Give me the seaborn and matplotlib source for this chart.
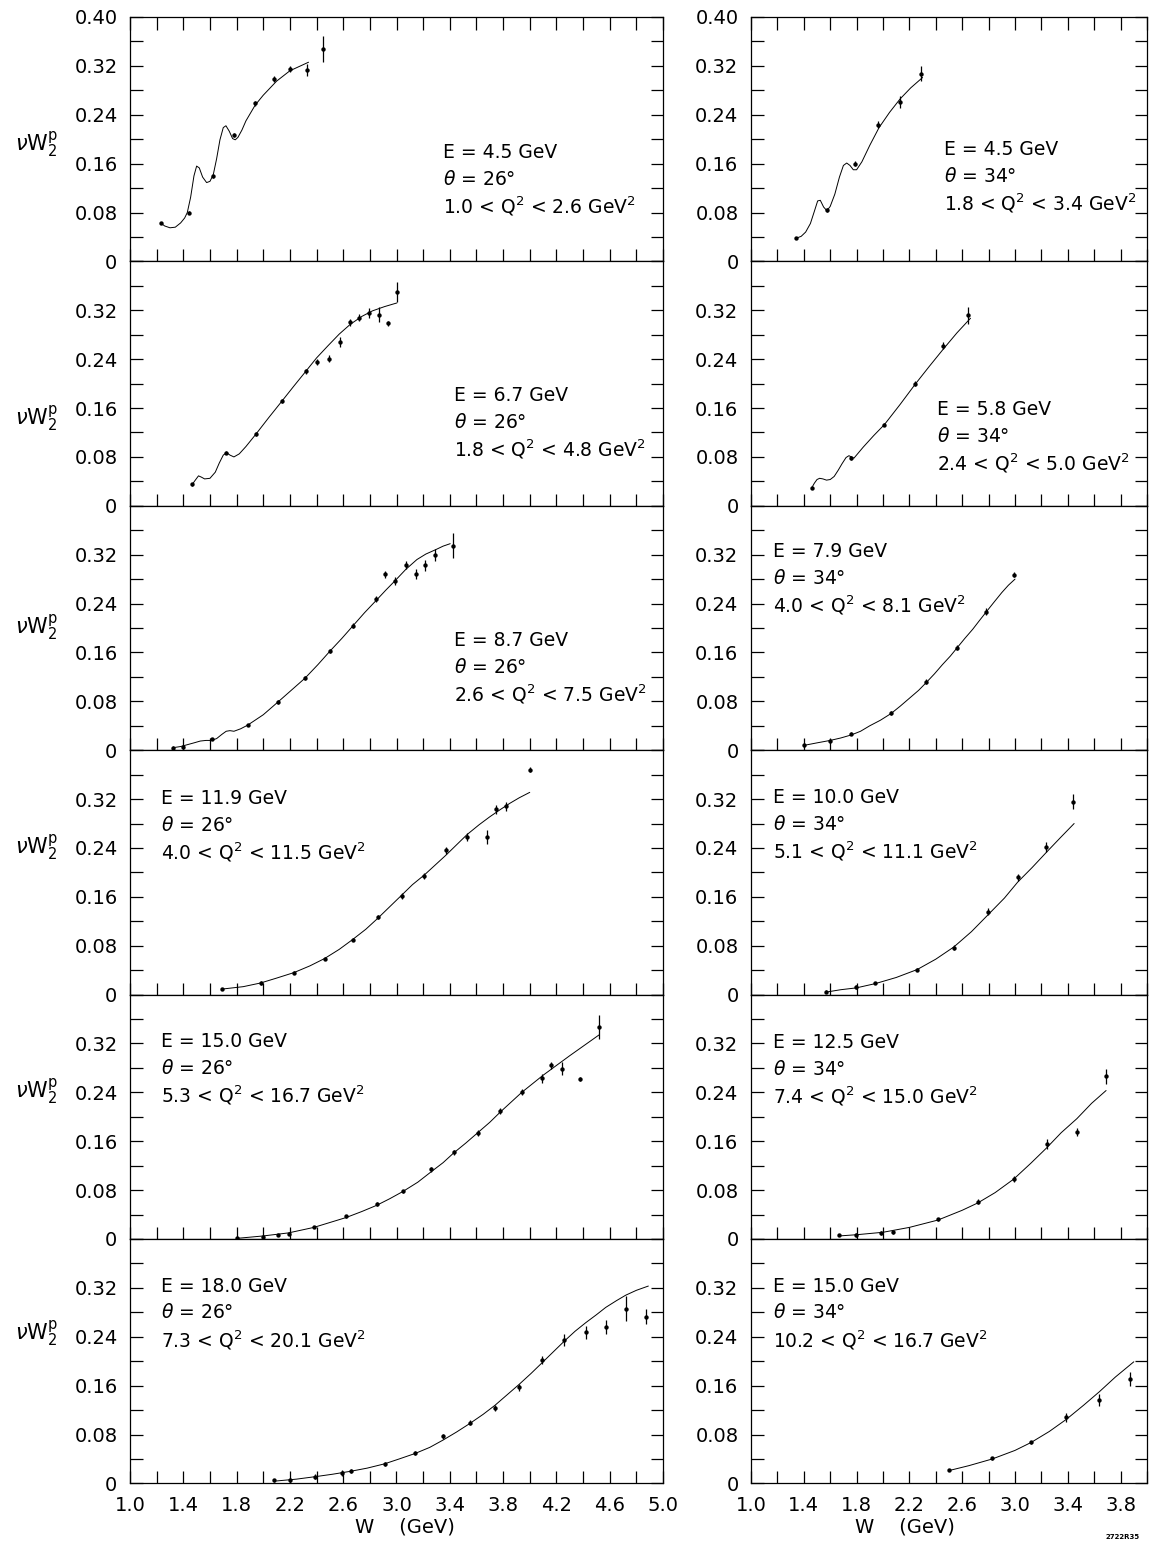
import numpy as np
import matplotlib
matplotlib.use("Agg")
import matplotlib.pyplot as plt
from matplotlib.ticker import FixedLocator, FixedFormatter, MultipleLocator
import seaborn as sns
import pandas as pd

# ---------------- measured nu*W2 (proton) and fitted curves ----------------
# E = 4.5 GeV, theta = 26 deg
w_e45_26 = [1.23, 1.44, 1.62, 1.78, 1.94, 2.08, 2.20, 2.33, 2.45]
v_e45_26 = [0.063, 0.080, 0.139, 0.207, 0.259, 0.299, 0.315, 0.313, 0.348]
d_e45_26 = [0.002, 0.003, 0.003, 0.003, 0.004, 0.005, 0.005, 0.010, 0.021]
fw_e45_26 = [1.23, 1.26, 1.30, 1.34, 1.38, 1.41, 1.43, 1.455, 1.48, 1.50, 1.52, 1.545,
             1.575, 1.60, 1.625, 1.65, 1.675, 1.70, 1.72, 1.745, 1.77, 1.79, 1.81, 1.84,
             1.87, 1.94, 2.00, 2.10, 2.20, 2.34]
fv_e45_26 = [0.063, 0.058, 0.055, 0.056, 0.063, 0.071, 0.080, 0.105, 0.140, 0.156, 0.153,
             0.138, 0.129, 0.131, 0.142, 0.168, 0.199, 0.219, 0.222, 0.213, 0.201, 0.199,
             0.203, 0.215, 0.230, 0.256, 0.272, 0.295, 0.312, 0.326]

# E = 6.7 GeV, theta = 26 deg
w_e67_26 = [1.467, 1.722, 1.944, 2.139, 2.319, 2.403, 2.49, 2.575, 2.653, 2.717, 2.797,
            2.867, 2.939, 3.003]
v_e67_26 = [0.035, 0.087, 0.117, 0.171, 0.220, 0.236, 0.241, 0.268, 0.300, 0.308, 0.316,
            0.313, 0.299, 0.350]
d_e67_26 = [0.002, 0.003, 0.003, 0.003, 0.004, 0.005, 0.005, 0.008, 0.006, 0.006, 0.008,
            0.012, 0.004, 0.017]
fw_e67_26 = [1.467, 1.49, 1.514, 1.535, 1.56, 1.60, 1.64, 1.67, 1.70, 1.725, 1.75, 1.78,
             1.82, 1.87, 1.944, 2.04, 2.139, 2.23, 2.319, 2.40, 2.486, 2.57, 2.653, 2.74,
             2.819, 2.91, 3.003]
fv_e67_26 = [0.035, 0.042, 0.049, 0.047, 0.044, 0.045, 0.055, 0.070, 0.083, 0.087, 0.083,
             0.080, 0.085, 0.097, 0.117, 0.144, 0.171, 0.196, 0.220, 0.242, 0.262, 0.281,
             0.297, 0.310, 0.319, 0.326, 0.332]

# E = 8.7 GeV, theta = 26 deg
w_e87_26 = [1.319, 1.397, 1.619, 1.883, 2.111, 2.314, 2.5, 2.675, 2.847, 2.917, 2.992,
            3.069, 3.147, 3.217, 3.286, 3.425]
v_e87_26 = [0.004, 0.006, 0.018, 0.041, 0.079, 0.118, 0.162, 0.204, 0.248, 0.288, 0.277,
            0.303, 0.288, 0.303, 0.320, 0.335]
d_e87_26 = [0.003, 0.003, 0.002, 0.002, 0.003, 0.003, 0.003, 0.004, 0.005, 0.006, 0.006,
            0.007, 0.008, 0.009, 0.010, 0.021]
fw_e87_26 = [1.319, 1.38, 1.43, 1.48, 1.528, 1.57, 1.61, 1.65, 1.69, 1.722, 1.75, 1.78,
             1.83, 1.883, 2.0, 2.111, 2.21, 2.314, 2.41, 2.5, 2.59, 2.675, 2.76, 2.847,
             2.92, 2.992, 3.07, 3.153, 3.22, 3.292, 3.35, 3.403]
fv_e87_26 = [0.004, 0.006, 0.009, 0.012, 0.015, 0.016, 0.016, 0.019, 0.026, 0.031, 0.032,
             0.031, 0.035, 0.041, 0.058, 0.079, 0.098, 0.118, 0.140, 0.162, 0.183, 0.204,
             0.225, 0.245, 0.262, 0.278, 0.296, 0.312, 0.321, 0.328, 0.334, 0.338]

# E = 11.9 GeV, theta = 26 deg
w_e119_26 = [1.69, 1.98, 2.23, 2.46, 2.67, 2.86, 3.04, 3.21, 3.37, 3.53, 3.68, 3.75, 3.82, 4.0]
v_e119_26 = [0.009, 0.019, 0.036, 0.059, 0.090, 0.127, 0.161, 0.194, 0.236, 0.258, 0.258,
             0.303, 0.308, 0.368]
d_e119_26 = [0.002, 0.003, 0.003, 0.003, 0.003, 0.004, 0.005, 0.005, 0.006, 0.007, 0.012,
             0.008, 0.008, 0.004]
fw_e119_26 = [1.69, 1.85, 1.98, 2.1, 2.23, 2.35, 2.46, 2.57, 2.67, 2.77, 2.86, 2.95, 3.04,
              3.12, 3.21, 3.29, 3.37, 3.45, 3.53, 3.62, 3.70, 3.78, 3.85, 3.92, 4.0]
fv_e119_26 = [0.009, 0.013, 0.019, 0.027, 0.036, 0.047, 0.059, 0.074, 0.090, 0.107, 0.125,
              0.144, 0.163, 0.180, 0.196, 0.212, 0.228, 0.245, 0.262, 0.278, 0.291, 0.303,
              0.313, 0.322, 0.331]

# E = 15.0 GeV, theta = 26 deg
w_e150_26 = [1.8, 2.0, 2.11, 2.19, 2.38, 2.62, 2.85, 3.05, 3.26, 3.43, 3.61, 3.78, 3.94,
             4.09, 4.16, 4.24, 4.38, 4.52]
v_e150_26 = [0.001, 0.004, 0.007, 0.009, 0.020, 0.037, 0.057, 0.078, 0.114, 0.142, 0.173,
             0.209, 0.241, 0.263, 0.284, 0.279, 0.262, 0.347]
d_e150_26 = [0.002, 0.002, 0.002, 0.002, 0.002, 0.003, 0.003, 0.003, 0.004, 0.004, 0.005,
             0.005, 0.005, 0.007, 0.006, 0.010, 0.003, 0.020]
fw_e150_26 = [1.8, 2.0, 2.19, 2.38, 2.5, 2.62, 2.74, 2.85, 2.95, 3.05, 3.16, 3.26, 3.35,
              3.43, 3.52, 3.61, 3.7, 3.78, 3.86, 3.94, 4.02, 4.1, 4.2, 4.3, 4.41, 4.52]
fv_e150_26 = [0.001, 0.005, 0.010, 0.019, 0.027, 0.035, 0.045, 0.055, 0.066, 0.078, 0.093,
              0.110, 0.125, 0.141, 0.157, 0.174, 0.191, 0.208, 0.224, 0.240, 0.254, 0.268,
              0.284, 0.300, 0.317, 0.334]

# E = 18.0 GeV, theta = 26 deg
w_e180_26 = [2.08, 2.2, 2.39, 2.59, 2.66, 2.91, 3.14, 3.35, 3.55, 3.74, 3.92, 4.09, 4.26,
             4.42, 4.57, 4.72, 4.87]
v_e180_26 = [0.005, 0.005, 0.011, 0.017, 0.020, 0.032, 0.050, 0.077, 0.099, 0.124, 0.157,
             0.202, 0.235, 0.247, 0.256, 0.286, 0.273]
d_e180_26 = [0.002, 0.004, 0.004, 0.005, 0.003, 0.003, 0.003, 0.004, 0.004, 0.005, 0.005,
             0.006, 0.010, 0.010, 0.012, 0.020, 0.012]
fw_e180_26 = [2.1, 2.25, 2.39, 2.52, 2.66, 2.78, 2.91, 3.02, 3.14, 3.25, 3.35, 3.45, 3.55,
              3.65, 3.74, 3.83, 3.92, 4.01, 4.1, 4.18, 4.26, 4.34, 4.42, 4.5, 4.57, 4.65,
              4.72, 4.8, 4.89]
fv_e180_26 = [0.004, 0.007, 0.011, 0.015, 0.020, 0.025, 0.032, 0.040, 0.049, 0.059, 0.071,
              0.084, 0.098, 0.113, 0.128, 0.145, 0.162, 0.180, 0.199, 0.216, 0.233, 0.249,
              0.263, 0.276, 0.288, 0.299, 0.308, 0.316, 0.323]

# E = 4.5 GeV, theta = 34 deg
w_e45_34 = [1.343, 1.573, 1.786, 1.964, 2.129, 2.29]
v_e45_34 = [0.038, 0.084, 0.160, 0.224, 0.261, 0.307]
d_e45_34 = [0.002, 0.003, 0.004, 0.005, 0.010, 0.012]
fw_e45_34 = [1.343, 1.38, 1.414, 1.45, 1.48, 1.505, 1.525, 1.55, 1.575, 1.60, 1.635, 1.67,
             1.70, 1.725, 1.75, 1.775, 1.80, 1.84, 1.90, 1.97, 2.05, 2.13, 2.21, 2.30]
fv_e45_34 = [0.038, 0.041, 0.048, 0.062, 0.082, 0.099, 0.100, 0.089, 0.083, 0.090, 0.110,
             0.138, 0.157, 0.161, 0.157, 0.150, 0.150, 0.163, 0.190, 0.219, 0.244, 0.266,
             0.284, 0.301]

# E = 5.8 GeV, theta = 34 deg
w_e58_34 = [1.459, 1.76, 2.011, 2.244, 2.455, 2.645]
v_e58_34 = [0.029, 0.078, 0.133, 0.200, 0.262, 0.312]
d_e58_34 = [0.002, 0.003, 0.003, 0.004, 0.006, 0.014]
fw_e58_34 = [1.459, 1.48, 1.50, 1.52, 1.545, 1.572, 1.60, 1.63, 1.66, 1.69, 1.72, 1.742,
             1.76, 1.78, 1.85, 1.93, 2.011, 2.13, 2.244, 2.35, 2.455, 2.56, 2.663]
fv_e58_34 = [0.029, 0.037, 0.043, 0.045, 0.044, 0.042, 0.043, 0.048, 0.058, 0.069, 0.079,
             0.082, 0.080, 0.078, 0.096, 0.115, 0.133, 0.166, 0.199, 0.228, 0.256, 0.283,
             0.307]

# E = 7.9 GeV, theta = 34 deg
w_e79_34 = [1.404, 1.597, 1.76, 2.061, 2.329, 2.563, 2.781, 2.994]
v_e79_34 = [0.008, 0.015, 0.027, 0.061, 0.112, 0.168, 0.227, 0.287]
d_e79_34 = [0.002, 0.002, 0.002, 0.003, 0.004, 0.004, 0.005, 0.004]
fw_e79_34 = [1.404, 1.5, 1.6, 1.68, 1.76, 1.83, 1.9, 1.98, 2.061, 2.13, 2.2, 2.27, 2.329,
             2.39, 2.45, 2.51, 2.563, 2.62, 2.68, 2.73, 2.781, 2.84, 2.9, 2.95, 3.0]
fv_e79_34 = [0.008, 0.012, 0.016, 0.020, 0.025, 0.031, 0.040, 0.049, 0.060, 0.072, 0.085,
             0.098, 0.111, 0.125, 0.140, 0.154, 0.168, 0.183, 0.198, 0.212, 0.226, 0.242,
             0.258, 0.270, 0.280]

# E = 10.0 GeV, theta = 34 deg
w_e100_34 = [1.567, 1.798, 1.942, 2.259, 2.537, 2.793, 3.02, 3.234, 3.436]
v_e100_34 = [0.005, 0.012, 0.019, 0.041, 0.077, 0.136, 0.192, 0.242, 0.316]
d_e100_34 = [0.002, 0.003, 0.002, 0.003, 0.004, 0.006, 0.006, 0.008, 0.012]
fw_e100_34 = [1.567, 1.68, 1.798, 1.942, 2.1, 2.259, 2.4, 2.537, 2.67, 2.793, 2.92, 3.02,
              3.13, 3.234, 3.34, 3.448]
fv_e100_34 = [0.004, 0.008, 0.011, 0.018, 0.028, 0.041, 0.058, 0.078, 0.103, 0.130, 0.158,
              0.184, 0.208, 0.232, 0.256, 0.280]

# E = 12.5 GeV, theta = 34 deg
w_e125_34 = [1.668, 1.798, 1.987, 2.076, 2.416, 2.718, 2.99, 3.239, 3.469, 3.688]
v_e125_34 = [0.007, 0.007, 0.010, 0.011, 0.032, 0.061, 0.098, 0.156, 0.175, 0.266]
d_e125_34 = [0.002, 0.003, 0.003, 0.002, 0.003, 0.004, 0.005, 0.008, 0.007, 0.012]
fw_e125_34 = [1.668, 1.8, 2.0, 2.2, 2.416, 2.6, 2.718, 2.85, 2.99, 3.12, 3.239, 3.35,
              3.469, 3.58, 3.69]
fv_e125_34 = [0.005, 0.007, 0.011, 0.019, 0.031, 0.047, 0.059, 0.076, 0.098, 0.124, 0.149,
              0.174, 0.197, 0.222, 0.243]

# E = 15.0 GeV, theta = 34 deg
w_e150_34 = [2.5, 2.828, 3.122, 3.39, 3.639, 3.874]
v_e150_34 = [0.022, 0.041, 0.067, 0.108, 0.137, 0.171]
d_e150_34 = [0.002, 0.003, 0.003, 0.008, 0.010, 0.012]
fw_e150_34 = [2.5, 2.65, 2.828, 3.0, 3.122, 3.26, 3.39, 3.52, 3.639, 3.76, 3.9]
fv_e150_34 = [0.021, 0.029, 0.040, 0.054, 0.067, 0.085, 0.105, 0.128, 0.150, 0.174, 0.199]

# kinematic labels
beam_e = ["4.5", "6.7", "8.7", "11.9", "15.0", "18.0", "4.5", "5.8", "7.9", "10.0", "12.5", "15.0"]
angle = ["26", "26", "26", "26", "26", "26", "34", "34", "34", "34", "34", "34"]
q2_lo = ["1.0", "1.8", "2.6", "4.0", "5.3", "7.3", "1.8", "2.4", "4.0", "5.1", "7.4", "10.2"]
q2_hi = ["2.6", "4.8", "7.5", "11.5", "16.7", "20.1", "3.4", "5.0", "8.1", "11.1", "15.0", "16.7"]

# y tick labels
ytick_vals = [0.0, 0.08, 0.16, 0.24, 0.32, 0.40]
ytick_text = ["0", "0.08", "0.16", "0.24", "0.32", "0.40"]

points = [(w_e45_26, v_e45_26, d_e45_26), (w_e67_26, v_e67_26, d_e67_26),
          (w_e87_26, v_e87_26, d_e87_26), (w_e119_26, v_e119_26, d_e119_26),
          (w_e150_26, v_e150_26, d_e150_26), (w_e180_26, v_e180_26, d_e180_26),
          (w_e45_34, v_e45_34, d_e45_34), (w_e58_34, v_e58_34, d_e58_34),
          (w_e79_34, v_e79_34, d_e79_34), (w_e100_34, v_e100_34, d_e100_34),
          (w_e125_34, v_e125_34, d_e125_34), (w_e150_34, v_e150_34, d_e150_34)]
curves = [(fw_e45_26, fv_e45_26), (fw_e67_26, fv_e67_26), (fw_e87_26, fv_e87_26),
          (fw_e119_26, fv_e119_26), (fw_e150_26, fv_e150_26), (fw_e180_26, fv_e180_26),
          (fw_e45_34, fv_e45_34), (fw_e58_34, fv_e58_34), (fw_e79_34, fv_e79_34),
          (fw_e100_34, fv_e100_34), (fw_e125_34, fv_e125_34), (fw_e150_34, fv_e150_34)]

# placement of the kinematic annotation (W, nu*W2 of first line)
note_xy = [(3.35, 0.178), (3.43, 0.180), (3.43, 0.180), (1.23, 0.321), (1.23, 0.323),
           (1.23, 0.323), (2.46, 0.183), (2.41, 0.157), (1.17, 0.325), (1.17, 0.323),
           (1.17, 0.322), (1.17, 0.323)]
ylab_at = [0.19, 0.143, 0.20, 0.24, 0.24, 0.244]

# ---------------- styling ----------------
sns.set_theme(style="ticks")
plt.rcParams.update({
    "font.family": ["DejaVu Sans"],
    "mathtext.fontset": "dejavusans",
    "axes.linewidth": 0.9,
    "axes.edgecolor": "black",
    "xtick.color": "black",
    "ytick.color": "black",
    "text.color": "black",
})

W_PX, H_PX = 1155, 1547
fig = plt.figure(figsize=(W_PX / 100, H_PX / 100), dpi=100)
fig.patch.set_facecolor("white")

ROW_H = 244.4
TOP = 17.0
columns = [(130.0, 533.0, 5.0), (751.0, 396.0, 4.0)]
FS_TICK = 14
FS_NOTE = 13.5

for col, (x0, width, xmax) in enumerate(columns):
    for row in range(6):
        k = col * 6 + row
        bottom_px = TOP + ROW_H * (row + 1)
        ax = fig.add_axes([x0 / W_PX, 1 - bottom_px / H_PX, width / W_PX, ROW_H / H_PX])
        ax.set_facecolor("white")

        fw, fv = curves[k]
        curve_df = pd.DataFrame({"W": fw, "nuW2": fv})
        sns.lineplot(data=curve_df, x="W", y="nuW2", ax=ax, sort=False, estimator=None,
                     color="black", linewidth=0.7)

        pw, pv, pe = points[k]
        pts_df = pd.DataFrame({"W": pw, "nuW2": pv, "err": pe})
        ax.errorbar(pts_df["W"], pts_df["nuW2"], yerr=pts_df["err"], fmt="none",
                    ecolor="black", elinewidth=0.9, capsize=0)
        sns.scatterplot(data=pts_df, x="W", y="nuW2", ax=ax, color="black", s=10,
                        linewidth=0, marker="o")

        ax.set_xlim(1.0, xmax)
        ax.set_ylim(0.0, 0.40)
        ax.set_xlabel("")
        ax.set_ylabel("")

        ax.xaxis.set_major_locator(MultipleLocator(0.4))
        ax.xaxis.set_minor_locator(MultipleLocator(0.2))
        nlab = 6 if row == 0 else 5
        ax.yaxis.set_major_locator(FixedLocator(ytick_vals[:nlab]))
        ax.yaxis.set_major_formatter(FixedFormatter(ytick_text[:nlab]))
        ax.yaxis.set_minor_locator(MultipleLocator(0.04))

        ax.tick_params(axis="both", which="both", direction="in", length=9, width=0.9,
                       labelsize=FS_TICK, pad=9)
        ax.tick_params(axis="y", which="both", left=True, right=True)
        ax.tick_params(axis="x", which="both", bottom=True, top=(row == 0),
                       labelbottom=(row == 5))
        if row == 5:
            ax.set_xticks(np.arange(1.0, xmax + 0.01, 0.4))
            ax.set_xticklabels([f"{v:.1f}" for v in np.arange(1.0, xmax + 0.01, 0.4)])

        for s in ax.spines.values():
            s.set_visible(True)
            s.set_linewidth(0.9)

        tx, ty = note_xy[k]
        step = 0.044
        ax.text(tx, ty, f"E = {beam_e[k]} GeV", fontsize=FS_NOTE, va="center", ha="left")
        ax.text(tx, ty - step, rf"$\theta$ = {angle[k]}°", fontsize=FS_NOTE, va="center",
                ha="left")
        ax.text(tx, ty - 2 * step,
                rf"{q2_lo[k]} < $\mathregular{{Q^2}}$ < {q2_hi[k]} $\mathregular{{GeV^2}}$",
                fontsize=FS_NOTE, va="center", ha="left")

        if col == 0:
            ax.text((37 - x0) / width, ylab_at[row] / 0.40, r"$\nu\mathregular{W_2^p}$",
                    transform=ax.transAxes, fontsize=FS_TICK + 1, ha="center", va="center")

fig.text(405 / W_PX, 1 - 1527 / H_PX, "W    (GeV)", fontsize=FS_TICK, ha="center",
         va="center")
fig.text(905 / W_PX, 1 - 1527 / H_PX, "W    (GeV)", fontsize=FS_TICK, ha="center",
         va="center")
fig.text(1123 / W_PX, 1 - 1537 / H_PX, "2722R35", fontsize=5, ha="center", va="center",
         fontweight="bold")

fig.savefig("out.png", dpi=100, facecolor="white")
